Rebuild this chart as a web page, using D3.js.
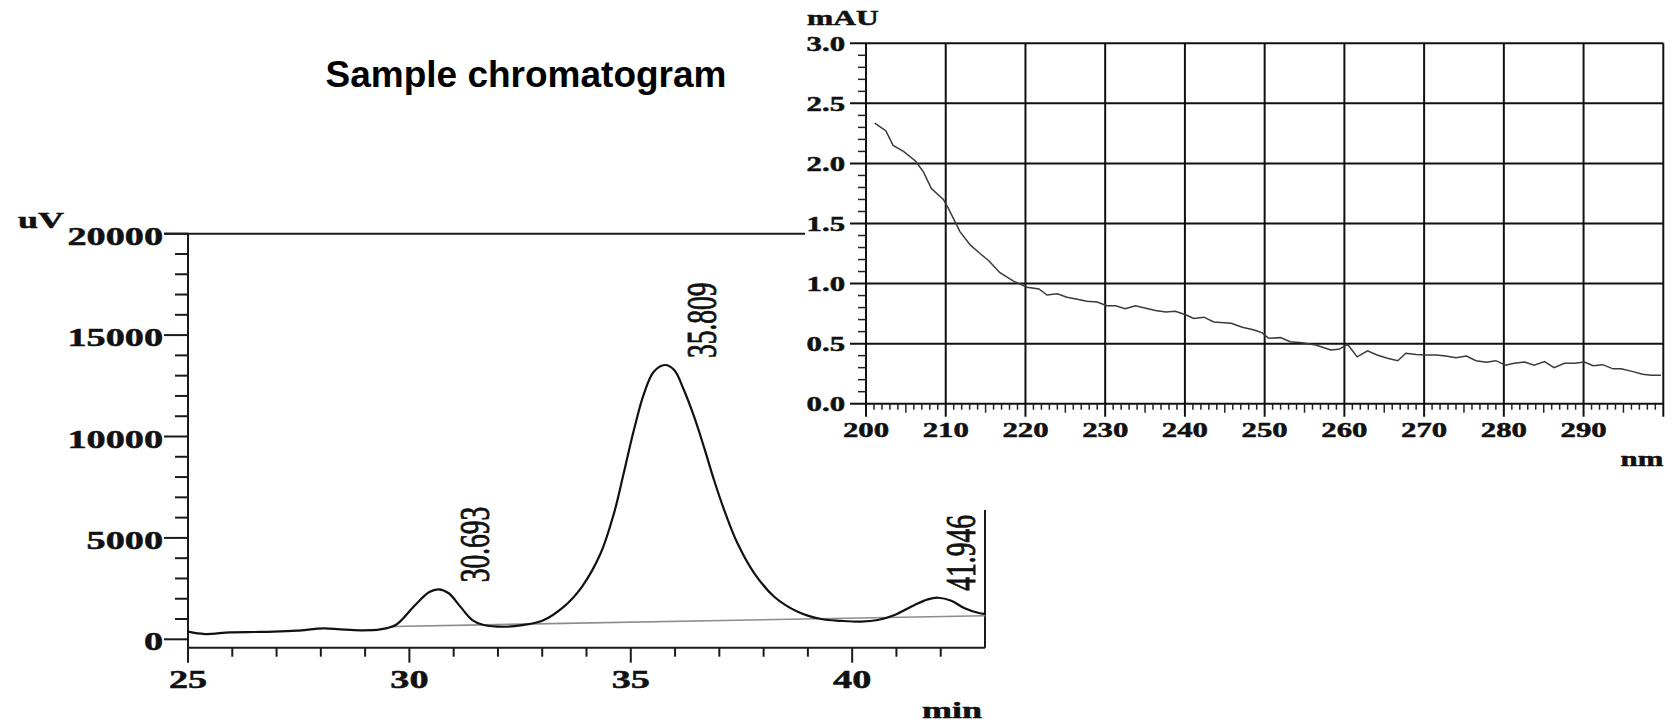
<!DOCTYPE html>
<html>
<head>
<meta charset="utf-8">
<script src="https://cdn.jsdelivr.net/npm/d3@7"></script>
<style>
  body { margin: 0; background: #fff; }
  svg { display: block; }
</style>
</head>
<body>
<div id="chart"></div>
<script>
// chromatogram trace (min, uV)
const chromTime = [25.0, 25.38, 25.95, 26.5, 26.93, 27.46, 28.06, 28.44, 28.89, 29.34, 29.7, 30.1, 30.45, 30.66, 30.89, 31.15, 31.42, 31.68, 32.13, 32.55, 33.0, 33.49, 33.9, 34.32, 34.62, 34.84, 35.07, 35.3, 35.52, 35.77, 35.98, 36.2, 36.43, 36.65, 36.88, 37.11, 37.41, 37.79, 38.24, 38.77, 39.3, 39.75, 40.2, 40.58, 40.96, 41.41, 41.71, 41.94, 42.24, 42.54, 42.84, 43.0];
const chromSignal = [375, 260, 345, 360, 375, 425, 540, 490, 445, 490, 720, 1620, 2330, 2465, 2270, 1610, 950, 705, 620, 700, 910, 1610, 2600, 4240, 6210, 8190, 10320, 12130, 13195, 13525, 13280, 12290, 10975, 9500, 7855, 6375, 4735, 3255, 2100, 1360, 1000, 910, 870, 950, 1200, 1690, 1970, 2050, 1900, 1530, 1310, 1250];
// integration baseline
const baseTime = [29.6, 43.0];
const baseSignal = [630, 1160];
// peak labels
const peakTimes = [30.693, 35.809, 41.946];
const peakHeights = [2465, 13525, 2050];

// UV spectrum (nm, mAU)
const wavelength = [201.1, 202.5, 203.4, 204.7, 206.2, 207.2, 208.2, 209.7, 210.3, 211.8, 213.1, 214.3, 215.4, 216.8, 218.5, 220.2, 221.7, 222.7, 224.0, 225.2, 226.5, 227.7, 229.0, 230.2, 231.3, 232.5, 233.8, 235.1, 236.3, 237.6, 238.8, 240.1, 241.1, 242.4, 243.6, 245.8, 247.2, 248.7, 249.7, 250.5, 252.0, 253.2, 254.7, 256.4, 258.3, 259.3, 260.4, 261.6, 262.9, 264.1, 265.4, 266.7, 267.7, 269.0, 270.2, 271.5, 272.7, 274.0, 275.3, 276.5, 277.8, 279.0, 280.2, 281.3, 282.6, 283.8, 285.1, 286.3, 287.6, 288.9, 290.1, 291.2, 292.4, 293.7, 294.7, 296.2, 297.4, 298.5, 299.7];
const absorbance = [2.335, 2.27, 2.15, 2.10, 2.02, 1.93, 1.79, 1.70, 1.63, 1.43, 1.32, 1.25, 1.19, 1.09, 1.02, 0.97, 0.955, 0.905, 0.915, 0.886, 0.87, 0.853, 0.847, 0.816, 0.816, 0.79, 0.816, 0.795, 0.775, 0.764, 0.77, 0.74, 0.71, 0.72, 0.68, 0.67, 0.636, 0.614, 0.59, 0.545, 0.55, 0.516, 0.508, 0.489, 0.447, 0.453, 0.495, 0.39, 0.44, 0.405, 0.378, 0.358, 0.42, 0.41, 0.405, 0.405, 0.397, 0.383, 0.397, 0.358, 0.345, 0.358, 0.32, 0.336, 0.347, 0.32, 0.35, 0.30, 0.336, 0.336, 0.347, 0.316, 0.325, 0.29, 0.29, 0.267, 0.245, 0.236, 0.236];

const chromXTicks = [25, 30, 35, 40];
const chromYTicks = [0, 5000, 10000, 15000, 20000];
const uvXTicks = [200, 210, 220, 230, 240, 250, 260, 270, 280, 290];
const uvYTicks = [0, 0.5, 1.0, 1.5, 2.0, 2.5, 3.0];

const width = 1674;
const height = 726;
const SX = 1.5; // the original figure is stretched horizontally
const serif = "'Liberation Serif', 'Times New Roman', serif";

const svg = d3
  .select("#chart")
  .append("svg")
  .attr("width", width)
  .attr("height", height);

function label(g, x, y, str, size, anchor, weight) {
  return g
    .append("text")
    .attr("transform", `translate(${x},${y}) scale(${SX},1)`)
    .attr("text-anchor", anchor)
    .style("font-family", serif)
    .style("font-weight", weight || "bold")
    .style("font-size", size + "px")
    .style("fill", "#111")
    .style("stroke", "#111")
    .style("stroke-width", 0.5)
    .text(str);
}

// ---------- chromatogram ----------
const xC = d3.scaleLinear().domain([25, 43]).range([188, 985]);
const yC = d3.scaleLinear().domain([0, 20000]).range([639.3, 233.7]);
const axisY = yC(0) + 8.4;

const chrom = svg.append("g");
const axisStyle = (sel) => sel.attr("stroke", "#1a1a1a").attr("stroke-width", 2).attr("fill", "none");

// frame lines
chrom.append("line").call(axisStyle)
  .attr("x1", xC(25)).attr("x2", xC(25)).attr("y1", yC(20000)).attr("y2", axisY + 15);
chrom.append("line").call(axisStyle)
  .attr("x1", xC(25) - 24).attr("x2", 805).attr("y1", yC(20000)).attr("y2", yC(20000));
chrom.append("line").call(axisStyle)
  .attr("x1", xC(25)).attr("x2", xC(43)).attr("y1", axisY).attr("y2", axisY);
chrom.append("line").call(axisStyle)
  .attr("x1", xC(43)).attr("x2", xC(43)).attr("y1", 510).attr("y2", axisY);

// y ticks
chrom.selectAll(".ymin")
  .data(d3.range(0, 20001, 1000))
  .enter()
  .append("line")
  .call(axisStyle)
  .attr("x1", (d) => xC(25) - (d % 5000 === 0 ? 24 : 13))
  .attr("x2", xC(25))
  .attr("y1", (d) => yC(d))
  .attr("y2", (d) => yC(d));
chromYTicks.forEach((d) => label(chrom, xC(25) - 25, yC(d) + 11, d, 25.5, "end"));

// x ticks
chrom.selectAll(".xmin")
  .data(d3.range(26, 43, 1))
  .enter()
  .append("line")
  .call(axisStyle)
  .attr("x1", (d) => xC(d))
  .attr("x2", (d) => xC(d))
  .attr("y1", axisY)
  .attr("y2", (d) => axisY + (d % 5 === 0 ? 15 : 9));
chromXTicks.forEach((d) => label(chrom, xC(d), axisY + 40, d, 25.5, "middle"));

label(chrom, 18, 228, "uV", 24, "start");
label(chrom, 922, 718, "min", 24, "start");

// baseline
chrom.append("path")
  .datum(baseTime.map((t, i) => [t, baseSignal[i]]))
  .attr("d", d3.line().x((d) => xC(d[0])).y((d) => yC(d[1])))
  .attr("stroke", "#8c8c8c")
  .attr("stroke-width", 1.6)
  .attr("fill", "none");

// trace
chrom.append("path")
  .datum(chromTime.map((t, i) => [t, chromSignal[i]]))
  .attr("d", d3.line().curve(d3.curveCatmullRom).x((d) => xC(d[0])).y((d) => yC(d[1])))
  .attr("stroke", "#111")
  .attr("stroke-width", 2.2)
  .attr("fill", "none");

// peak labels
peakTimes.forEach((t, i) => {
  const x = Math.min(xC(t) + 49, xC(43) - 10);
  chrom.append("text")
    .attr("transform", `translate(${x},${yC(peakHeights[i]) - 7}) scale(${SX},1) rotate(-90)`)
    .style("font-family", serif)
    .style("font-size", "27.5px")
    .style("fill", "#111")
    .style("stroke", "#111")
    .style("stroke-width", 0.6)
    .text(t.toFixed(3));
});

// title
svg.append("text")
  .attr("x", 526)
  .attr("y", 87)
  .attr("text-anchor", "middle")
  .style("font-family", "'Liberation Sans', Arial, sans-serif")
  .style("font-weight", "bold")
  .style("font-size", "37px")
  .style("fill", "#000")
  .text("Sample chromatogram");

// ---------- UV spectrum ----------
const xU = d3.scaleLinear().domain([200, 300]).range([866, 1663.3]);
const yU = d3.scaleLinear().domain([0, 3]).range([403.7, 43.3]);
const uv = svg.append("g");
const gridStyle = (sel) => sel.attr("stroke", "#111").attr("stroke-width", 2).attr("fill", "none");

uv.selectAll(".hgrid")
  .data(uvYTicks)
  .enter()
  .append("line")
  .call(gridStyle)
  .attr("x1", xU(200) - 16)
  .attr("x2", xU(300))
  .attr("y1", (d) => yU(d))
  .attr("y2", (d) => yU(d));

uv.selectAll(".vgrid")
  .data(uvXTicks.concat([300]))
  .enter()
  .append("line")
  .call(gridStyle)
  .attr("x1", (d) => xU(d))
  .attr("x2", (d) => xU(d))
  .attr("y1", yU(3))
  .attr("y2", yU(0) + 13);

// minor ticks
uv.selectAll(".yminor")
  .data(d3.range(1, 30).filter((d) => d % 5 !== 0))
  .enter()
  .append("line")
  .attr("stroke", "#222")
  .attr("stroke-width", 1.5)
  .attr("x1", xU(200) - 8)
  .attr("x2", xU(200))
  .attr("y1", (d) => yU(d / 10))
  .attr("y2", (d) => yU(d / 10));

uv.selectAll(".xminor")
  .data(d3.range(201, 300).filter((d) => d % 10 !== 0))
  .enter()
  .append("line")
  .attr("stroke", "#222")
  .attr("stroke-width", 1.5)
  .attr("x1", (d) => xU(d))
  .attr("x2", (d) => xU(d))
  .attr("y1", yU(0))
  .attr("y2", (d) => yU(0) + (d % 5 === 0 ? 9 : 6));

uvYTicks.forEach((d) => label(uv, xU(200) - 21, yU(d) + 7.5, d.toFixed(1), 20.5, "end"));
uvXTicks.forEach((d) => label(uv, xU(d), yU(0) + 33, d, 20.5, "middle"));

label(uv, 807, 25, "mAU", 21, "start");
label(uv, xU(300), 466, "nm", 20.5, "end");

uv.append("path")
  .datum(wavelength.map((w, i) => [w, absorbance[i]]))
  .attr("d", d3.line().x((d) => xU(d[0])).y((d) => yU(d[1])))
  .attr("stroke", "#3a3a3a")
  .attr("stroke-width", 1.5)
  .attr("fill", "none");
</script>
</body>
</html>
